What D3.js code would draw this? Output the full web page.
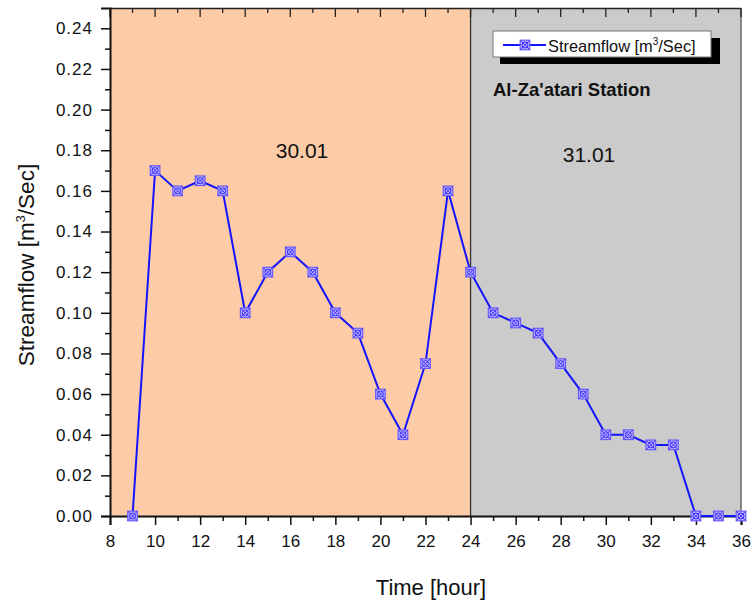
<!DOCTYPE html>
<html>
<head>
<meta charset="utf-8">
<script src="https://cdn.jsdelivr.net/npm/d3@7"></script>
<style>
  html, body { margin: 0; padding: 0; background: #ffffff; }
  svg { display: block; font-family: "Liberation Sans", Arial, sans-serif; }
</style>
</head>
<body>
<svg id="chart" width="753" height="603"></svg>
<script>
// Hourly streamflow at Al-Za'atari Station across two days
const hours = [9, 10, 11, 12, 13, 14, 15, 16, 17, 18, 19, 20, 21, 22, 23, 24,
               25, 26, 27, 28, 29, 30, 31, 32, 33, 34, 35, 36];
const flow = [0.000, 0.170, 0.160, 0.165, 0.160, 0.100, 0.120, 0.130, 0.120, 0.100,
              0.090, 0.060, 0.040, 0.075, 0.160, 0.120, 0.100, 0.095, 0.090, 0.075,
              0.060, 0.040, 0.040, 0.035, 0.035, 0.000, 0.000, 0.000];
const xTicks = [8, 10, 12, 14, 16, 18, 20, 22, 24, 26, 28, 30, 32, 34, 36];
const yTicks = [0, 0.02, 0.04, 0.06, 0.08, 0.10, 0.12, 0.14, 0.16, 0.18, 0.20, 0.22, 0.24];
const days = [
  { label: "30.01", from: 8, to: 24, fill: "#fdcba6", lx: 302, ly: 158 },
  { label: "31.01", from: 24, to: 36, fill: "#cbcbcb", lx: 589, ly: 162 }
];

const svg = d3.select("#chart");
const plotL = 110, plotR = 741, plotT = 8, plotB = 516;

const x = d3.scaleLinear().domain([8, 36]).range([plotL, plotR]);
const y = d3.scaleLinear().domain([0, 0.25]).range([plotB, plotT]);

// day background bands
svg.selectAll("rect.day").data(days).enter().append("rect")
  .attr("class", "day")
  .attr("x", d => x(d.from)).attr("y", plotT)
  .attr("width", d => x(d.to) - x(d.from)).attr("height", plotB - plotT)
  .attr("fill", d => d.fill);

// day divider
svg.append("line")
  .attr("x1", x(24)).attr("x2", x(24)).attr("y1", plotT).attr("y2", plotB)
  .attr("stroke", "#333").attr("stroke-width", 1.3);

// day labels
svg.selectAll("text.day").data(days).enter().append("text")
  .attr("class", "day")
  .attr("x", d => d.lx).attr("y", d => d.ly)
  .attr("text-anchor", "middle")
  .attr("font-size", 21).attr("fill", "#111")
  .text(d => d.label);

// frame: top and right
svg.append("line").attr("x1", plotL).attr("x2", plotR).attr("y1", plotT + 0.5).attr("y2", plotT + 0.5)
  .attr("stroke", "#222").attr("stroke-width", 1.5);
svg.append("line").attr("x1", plotR).attr("x2", plotR).attr("y1", plotT).attr("y2", plotB)
  .attr("stroke", "#666").attr("stroke-width", 1.5);

// top inward ticks every hour
const hourTicks = d3.range(8, 37);
svg.selectAll("line.topTick").data(hourTicks).enter().append("line")
  .attr("class", "topTick")
  .attr("x1", d => x(d)).attr("x2", d => x(d))
  .attr("y1", plotT).attr("y2", d => plotT + (d % 2 === 0 ? 9 : 5))
  .attr("stroke", "#222").attr("stroke-width", 1.3);

// bottom axis
svg.append("g").attr("class", "xaxis").attr("transform", `translate(0,${plotB})`)
  .call(d3.axisBottom(x).tickValues(xTicks).tickFormat(d3.format("d")).tickSize(9).tickPadding(10));
svg.append("g").attr("transform", `translate(0,${plotB})`)
  .call(d3.axisBottom(x).tickValues(hourTicks.filter(d => d % 2 === 1)).tickFormat("").tickSize(5))
  .select(".domain").remove();

// left axis
svg.append("g").attr("class", "yaxis").attr("transform", `translate(${plotL},0)`)
  .call(d3.axisLeft(y).tickValues(yTicks).tickFormat(d3.format(".2f")).tickSize(9).tickPadding(8));
svg.append("g").attr("transform", `translate(${plotL},0)`)
  .call(d3.axisLeft(y).tickValues(d3.range(0.01, 0.25, 0.02)).tickFormat("").tickSize(5))
  .select(".domain").remove();

svg.selectAll(".domain").attr("stroke", "#111").attr("stroke-width", 2);
svg.selectAll(".tick line").attr("stroke", "#111").attr("stroke-width", 1.5);
svg.selectAll(".tick text").attr("font-size", 17).attr("fill", "#111")
  .attr("font-family", "'Liberation Sans', Arial, sans-serif");
svg.selectAll(".yaxis .tick text").attr("letter-spacing", 1);

// axis titles
svg.append("text")
  .attr("x", 431).attr("y", 595)
  .attr("text-anchor", "middle").attr("font-size", 22).attr("fill", "#111")
  .text("Time [hour]");

const yTitle = svg.append("text")
  .attr("transform", `translate(34,265) rotate(-90)`)
  .attr("text-anchor", "middle").attr("font-size", 22.5).attr("fill", "#111");
yTitle.append("tspan").text("Streamflow [m");
yTitle.append("tspan").attr("font-size", 13).attr("dy", -9).text("3");
yTitle.append("tspan").attr("dy", 9).text("/Sec]");

// series
const line = d3.line().x((d, i) => x(hours[i])).y(d => y(d));
svg.append("path").datum(flow)
  .attr("d", line).attr("fill", "none")
  .attr("stroke", "#1414ff").attr("stroke-width", 2);

// square-cross-circle markers
function marker(g, cx, cy) {
  const s = 4.8;
  const m = g.append("g").attr("transform", `translate(${cx},${cy})`);
  m.append("rect").attr("x", -s).attr("y", -s).attr("width", 2 * s).attr("height", 2 * s)
    .attr("fill", "#b9b0ff").attr("stroke", "#6a5cff").attr("stroke-width", 1.2);
  m.append("circle").attr("r", 3).attr("fill", "none").attr("stroke", "#3b2cff").attr("stroke-width", 1);
  m.append("path").attr("d", `M${-s},${-s}L${s},${s}M${s},${-s}L${-s},${s}`)
    .attr("stroke", "#3b2cff").attr("stroke-width", 0.9);
}
const markers = svg.append("g");
flow.forEach((v, i) => marker(markers, x(hours[i]), y(v)));

// legend
const lg = svg.append("g");
lg.append("rect").attr("x", 500).attr("y", 38).attr("width", 220).attr("height", 26).attr("fill", "#000");
lg.append("rect").attr("x", 493).attr("y", 31).attr("width", 218).attr("height", 26)
  .attr("fill", "#fff").attr("stroke", "#777").attr("stroke-width", 1);
lg.append("line").attr("x1", 503).attr("x2", 546).attr("y1", 45).attr("y2", 45)
  .attr("stroke", "#1414ff").attr("stroke-width", 2);
marker(lg, 525, 45);
const lt = lg.append("text").attr("x", 548).attr("y", 52).attr("font-size", 16.4).attr("fill", "#111");
lt.append("tspan").text("Streamflow [m");
lt.append("tspan").attr("font-size", 10).attr("dy", -7).text("3");
lt.append("tspan").attr("dy", 7).text("/Sec]");

// station name
svg.append("text").attr("x", 493).attr("y", 96)
  .attr("font-size", 18.5).attr("font-weight", "bold").attr("fill", "#111")
  .text("Al-Za'atari Station");
</script>
</body>
</html>
